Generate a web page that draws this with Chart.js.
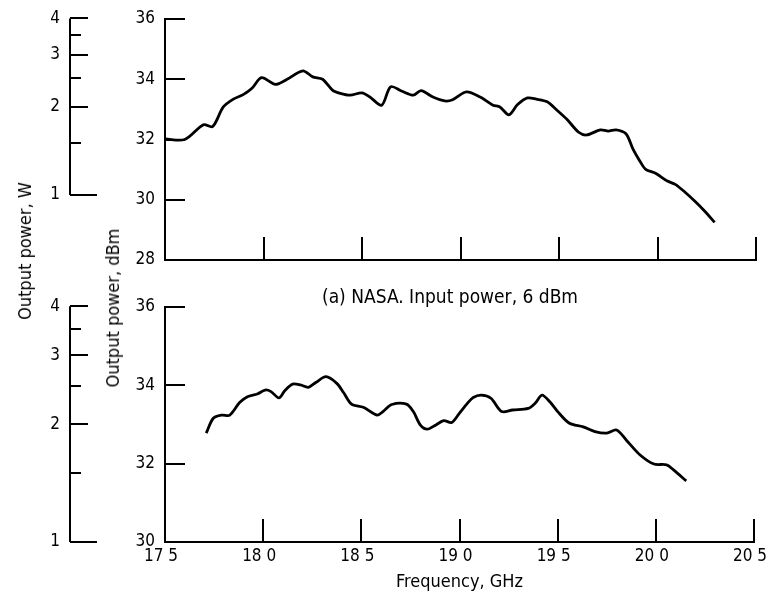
<!DOCTYPE html>
<html>
<head>
<meta charset="utf-8">
<script src="https://cdn.jsdelivr.net/npm/chart.js"></script>
<style>
  html, body { margin: 0; padding: 0; background: #fff; }
  #wrap {
    position: relative; width: 767px; height: 604px; overflow: hidden;
    font-family: 'Liberation Sans Narrow', 'DejaVu Sans Condensed', sans-serif;
    color: #000;
  }
  canvas { position: absolute; left: 0; }
  #topChart { top: 0; }
  #bottomChart { top: 280px; }
  .label {
    position: absolute; white-space: nowrap; font-size: 18px; line-height: 1;
    transform: translate(-50%, -50%);
  }
  .vert { transform: translate(-50%, -50%) rotate(-90deg); }
</style>
</head>
<body>
<div id="wrap">
  <canvas id="topChart" width="767" height="275"></canvas>
  <canvas id="bottomChart" width="767" height="324"></canvas>
  <div class="label vert" style="left:25px; top:251px;">Output power, W</div>
  <div class="label vert" style="left:113px; top:308px;">Output power, dBm</div>
  <div class="label" style="left:450px; top:296px; font-size:19px;">(a) NASA. Input power, 6 dBm</div>
</div>
<script>
// frequency axis
const freqTicks = [17.5, 18.0, 18.5, 19.0, 19.5, 20.0, 20.5];
const freqTickLabels = ['17 5', '18 0', '18 5', '19 0', '19 5', '20 0', '20 5'];

// watt axis (log)
const wattTicks = [1, 1.5, 2, 2.5, 3, 3.5, 4];
const wattTickLabels = ['1', '', '2', '', '3', '', '4'];

// (a) NASA, input power 6 dBm
const freqA = [17.50, 17.60, 17.695, 17.742, 17.796, 17.847, 17.897, 17.94, 17.99, 18.06,
  18.12, 18.20, 18.25, 18.30, 18.35, 18.39, 18.44, 18.50, 18.54, 18.60,
  18.645, 18.70, 18.76, 18.80, 18.86, 18.92, 18.96, 19.03, 19.10, 19.165,
  19.20, 19.246, 19.29, 19.34, 19.385, 19.44, 19.49, 19.54, 19.60, 19.64,
  19.71, 19.75, 19.79, 19.84, 19.875, 19.91, 19.94, 19.99, 20.05, 20.09,
  20.14, 20.19, 20.24, 20.29];
const powerA = [32.02, 32.00, 32.49, 32.43, 33.08, 33.34, 33.49, 33.69, 34.05, 33.83,
  34.00, 34.28, 34.08, 34.00, 33.64, 33.53, 33.47, 33.55, 33.41, 33.14,
  33.75, 33.61, 33.47, 33.62, 33.41, 33.28, 33.32, 33.58, 33.41, 33.14,
  33.08, 32.82, 33.16, 33.38, 33.34, 33.25, 32.97, 32.67, 32.24, 32.15,
  32.32, 32.28, 32.32, 32.19, 31.69, 31.29, 31.01, 30.88, 30.62, 30.51,
  30.25, 29.95, 29.62, 29.25];

// second panel
const freqB = [17.71, 17.746, 17.789, 17.83, 17.88, 17.92, 17.97, 18.01, 18.04, 18.08,
  18.11, 18.15, 18.19, 18.23, 18.27, 18.32, 18.375, 18.41, 18.45, 18.51,
  18.58, 18.61, 18.655, 18.73, 18.765, 18.80, 18.836, 18.88, 18.92, 18.96,
  19.00, 19.04, 19.07, 19.11, 19.16, 19.215, 19.27, 19.35, 19.385, 19.42,
  19.46, 19.50, 19.56, 19.63, 19.69, 19.75, 19.80, 19.85, 19.92, 19.99,
  20.055, 20.09, 20.155];
const powerB = [32.78, 33.16, 33.24, 33.24, 33.56, 33.71, 33.78, 33.88, 33.84, 33.68,
  33.86, 34.03, 34.01, 33.95, 34.08, 34.22, 34.05, 33.81, 33.52, 33.44,
  33.24, 33.33, 33.51, 33.52, 33.33, 32.99, 32.88, 32.99, 33.10, 33.05,
  33.29, 33.54, 33.69, 33.75, 33.67, 33.33, 33.37, 33.41, 33.54, 33.75,
  33.58, 33.33, 33.03, 32.94, 32.82, 32.78, 32.86, 32.60, 32.22, 31.99,
  31.97, 31.84, 31.56];

Chart.defaults.font.family = "'Liberation Sans Narrow', 'DejaVu Sans Condensed', sans-serif";
Chart.defaults.font.size = 17;
Chart.defaults.color = '#000';

// dBm -> W for the outer axis
const dbmToW = d => Math.pow(10, (d - 30) / 10);

// fixed box size, no label overflow padding (ticks.padding otherwise eats the chart area)
const fixBox = (w, h) => s => {
  if (w) s.width = w;
  if (h) s.height = h;
  s.paddingTop = 0; s.paddingBottom = 0; s.paddingLeft = 0; s.paddingRight = 0;
};

// W axis line and its ticks only run from 1 W to 4 W
const wattAxisPlugin = {
  id: 'wattAxis',
  afterDraw(chart) {
    const scale = chart.scales.w;
    const ctx = chart.ctx;
    const x = scale.right;
    ctx.save();
    ctx.strokeStyle = '#000';
    ctx.lineWidth = 2;
    ctx.beginPath();
    ctx.moveTo(x, scale.getPixelForValue(4));
    ctx.lineTo(x, scale.getPixelForValue(1));
    wattTicks.forEach(v => {
      const y = Math.round(scale.getPixelForValue(v));
      const len = v === 1 ? 27 : (Number.isInteger(v) ? 18 : 11);
      ctx.moveTo(x, y);
      ctx.lineTo(x + len, y);
    });
    ctx.stroke();
    ctx.restore();
  }
};

function makeChart(id, freq, power, yMin, showLabels, padding) {
  const xHeight = showLabels ? 51 : 15;
  return new Chart(document.getElementById(id), {
    type: 'line',
    data: {
      datasets: [{
        data: freq.map((f, i) => ({ x: f, y: power[i] })),
        borderColor: '#000',
        borderWidth: 2.8,
        pointRadius: 0,
        tension: 0.3,
        fill: false,
        yAxisID: 'y'
      }]
    },
    options: {
      responsive: false,
      animation: false,
      events: [],
      layout: { padding: padding },
      plugins: { legend: { display: false }, tooltip: { enabled: false } },
      scales: {
        x: {
          type: 'linear',
          min: 17.5,
          max: 20.5,
          afterBuildTicks: s => { s.ticks = freqTicks.map(v => ({ value: v })); },
          afterFit: fixBox(0, xHeight),
          ticks: {
            display: showLabels,
            padding: 27,
            labelOffset: -4,
            maxRotation: 0,
            callback: (v, i) => freqTickLabels[i]
          },
          grid: { drawOnChartArea: false, tickLength: -23, color: '#000', lineWidth: 2 },
          border: { color: '#000', width: 2 },
          title: {
            display: showLabels,
            text: 'Frequency, GHz',
            font: { size: 18 },
            padding: 0
          }
        },
        y: {
          type: 'linear',
          position: 'left',
          weight: 0,
          min: yMin,
          max: 36,
          afterFit: fixBox(95, 0),
          ticks: { stepSize: 2, padding: 30 },
          grid: { drawOnChartArea: false, tickLength: -20, color: '#000', lineWidth: 2 },
          border: { color: '#000', width: 2 }
        },
        w: {
          type: 'logarithmic',
          position: 'left',
          weight: 1,
          min: dbmToW(yMin),
          max: dbmToW(36),
          afterBuildTicks: s => { s.ticks = wattTicks.map(v => ({ value: v })); },
          afterFit: fixBox(70, 0),
          ticks: { padding: 10, callback: (v, i) => wattTickLabels[i] },
          grid: { display: false, drawTicks: false },
          border: { display: false }
        }
      }
    },
    plugins: [wattAxisPlugin]
  });
}

makeChart('topChart', freqA, powerA, 28, false, { top: 19, right: 11, bottom: 0, left: 0 });
makeChart('bottomChart', freqB, powerB, 30, true, { top: 27, right: 13, bottom: 11, left: 0 });
</script>
</body>
</html>
